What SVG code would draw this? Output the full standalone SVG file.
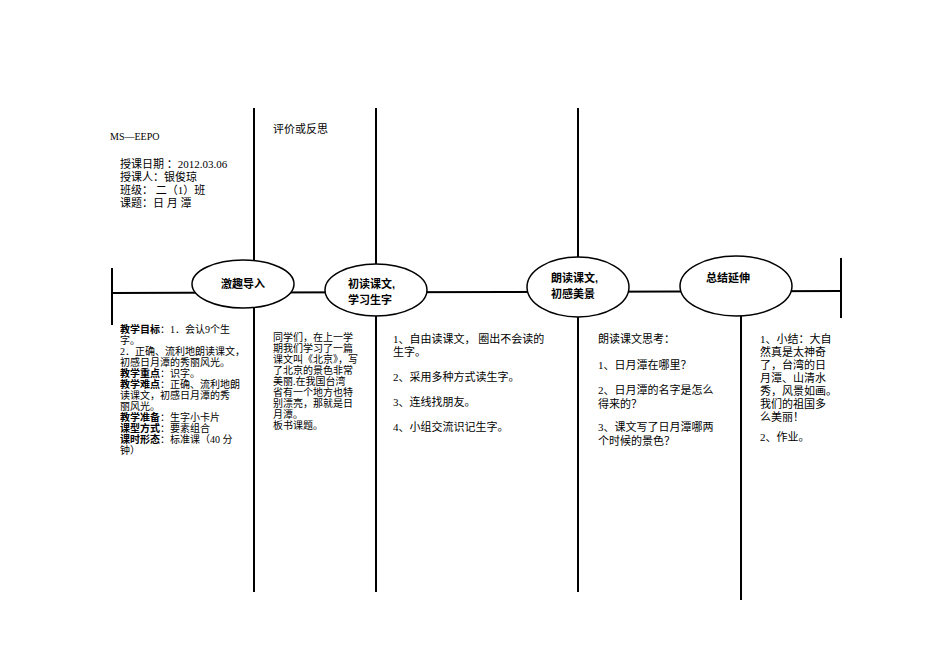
<svg xmlns="http://www.w3.org/2000/svg" width="950" height="672" viewBox="0 0 950 672">
<style>
.l{stroke:#000;stroke-width:2;fill:none}
.e{stroke:#000;stroke-width:1.5;fill:#fff}
text{font-family:"Liberation Serif","Noto Sans CJK SC",serif;fill:#000}
.s{font-size:10px}
.m{font-size:11px}
.h{font-size:11px;font-weight:bold;font-family:"Liberation Sans","Noto Sans CJK SC",sans-serif}
.b{font-weight:bold}
</style>
<rect width="950" height="672" fill="#fff"/>
<g id="connectors">
<line class="l" x1="112" y1="293" x2="841" y2="291"/>
<line class="l" x1="112" y1="268" x2="112" y2="325"/>
<line class="l" x1="841" y1="258" x2="841" y2="318"/>
<line class="l" x1="254" y1="108" x2="254" y2="592"/>
<line class="l" x1="376" y1="108" x2="376" y2="592"/>
<line class="l" x1="578" y1="108" x2="578" y2="592"/>
<line class="l" x1="741" y1="316" x2="741" y2="600"/>
</g>
<g id="n1"><ellipse class="e" cx="243" cy="284" rx="51" ry="24"/><text class="h" x="243" y="288" text-anchor="middle">激趣导入</text></g>
<g id="n2"><ellipse class="e" cx="376" cy="290" rx="51" ry="26"/><text class="h" x="348" y="288">初读课文,</text><text class="h" x="348" y="304">学习生字</text></g>
<g id="n3"><ellipse class="e" cx="578" cy="287" rx="51" ry="30"/><text class="h" x="551" y="282">朗读课文,</text><text class="h" x="551" y="298">初感美景</text></g>
<g id="n4"><ellipse class="e" cx="736" cy="286" rx="56" ry="30"/><text class="h" x="706" y="282">总结延伸</text></g>
<g id="header">
<text class="s" x="110" y="140">MS—EEPO</text>
<text class="m" x="120" y="168">授课日期 ：2012.03.06</text>
<text class="m" x="120" y="181">授课人：银俊琼</text>
<text class="m" x="120" y="194">班级：  二（1）班</text>
<text class="m" x="120" y="207">课题：日 月 潭</text>
<text class="m" x="273" y="133">评价或反思</text>
</g>
<g id="col1" class="s">
<text x="120" y="333"><tspan class="b">教学目标</tspan>：1．会认9个生</text>
<text x="120" y="344">字。</text>
<text x="120" y="355">2．正确、流利地朗读课文，</text>
<text x="120" y="366">初感日月潭的秀丽风光。</text>
<text x="120" y="377"><tspan class="b">教学重点</tspan>：识字。</text>
<text x="120" y="388"><tspan class="b">教学难点</tspan>：正确、流利地朗</text>
<text x="120" y="399">读课文，初感日月潭的秀</text>
<text x="120" y="410">丽风光。</text>
<text x="120" y="421"><tspan class="b">教学准备</tspan>：生字小卡片</text>
<text x="120" y="432"><tspan class="b">课型方式</tspan>：要素组合</text>
<text x="120" y="443"><tspan class="b">课时形态</tspan>：标准课（40 分</text>
<text x="120" y="454">钟）</text>
</g>
<g id="col2" class="s">
<text x="273" y="341">同学们，在上一学</text>
<text x="273" y="352">期我们学习了一篇</text>
<text x="273" y="363">课文叫《北京》，写</text>
<text x="273" y="374">了北京的景色非常</text>
<text x="273" y="385">美丽.在我国台湾</text>
<text x="273" y="396">省有一个地方也特</text>
<text x="273" y="407">别漂亮，那就是日</text>
<text x="273" y="418">月潭。</text>
<text x="273" y="429">板书课题。</text>
</g>
<g id="col3" class="m">
<text x="393" y="343">1、自由读课文，  圈出不会读的</text>
<text x="393" y="356">生字。</text>
<text x="393" y="381">2、采用多种方式读生字。</text>
<text x="393" y="406">3、连线找朋友。</text>
<text x="393" y="431">4、小组交流识记生字。</text>
</g>
<g id="col4" class="m">
<text x="598" y="343">朗读课文思考：</text>
<text x="598" y="369">1、日月潭在哪里？</text>
<text x="598" y="394">2、日月潭的名字是怎么</text>
<text x="598" y="408">得来的？</text>
<text x="598" y="431">3、课文写了日月潭哪两</text>
<text x="598" y="445">个时候的景色？</text>
</g>
<g id="col5" class="m">
<text x="760" y="343">1、小结：大自</text>
<text x="760" y="356">然真是太神奇</text>
<text x="760" y="369">了，台湾的日</text>
<text x="760" y="382">月潭、山清水</text>
<text x="760" y="395">秀，风景如画。</text>
<text x="760" y="408">我们的祖国多</text>
<text x="760" y="421">么美丽！</text>
<text x="760" y="441">2、作业。</text>
</g>
</svg>
